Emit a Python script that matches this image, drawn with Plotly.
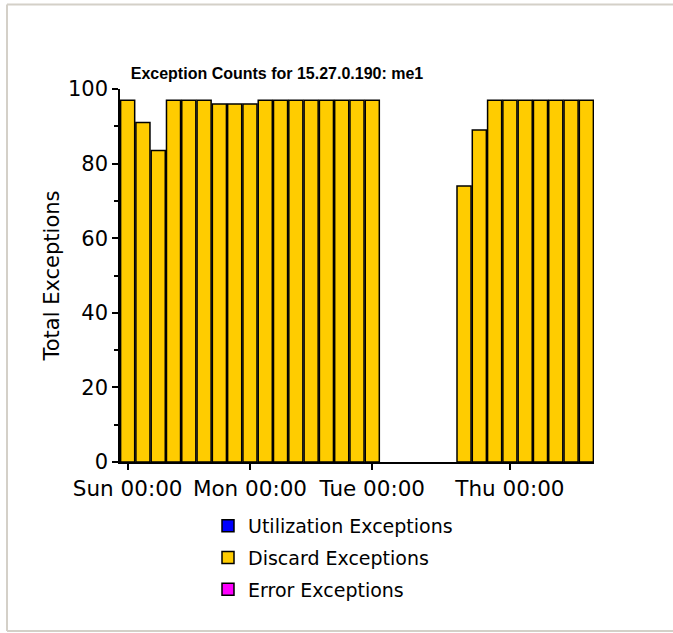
import plotly.graph_objects as go

# ---- data ----
slots = [
    "Sun 00:00", "Sun 03:00", "Sun 06:00", "Sun 09:00", "Sun 12:00", "Sun 15:00", "Sun 18:00", "Sun 21:00",
    "Mon 00:00", "Mon 03:00", "Mon 06:00", "Mon 09:00", "Mon 12:00", "Mon 15:00", "Mon 18:00", "Mon 21:00",
    "Tue 00:00",
    "gap1", "gap2", "gap3", "gap4", "gap5",
    "Wed 15:00", "Wed 18:00", "Wed 21:00",
    "Thu 00:00", "Thu 03:00", "Thu 06:00", "Thu 09:00", "Thu 12:00", "Thu 15:00",
]
discard = [
    97, 91, 83.5, 97, 97, 97, 96, 96, 96, 97, 97, 97, 97, 97, 97, 97,
    97,
    None, None, None, None, None,
    74, 89, 97,
    97, 97, 97, 97, 97, 97,
]
utilization = [None] * len(slots)
errors = [None] * len(slots)

tick_labels = ["Sun 00:00", "Mon 00:00", "Tue 00:00", "Thu 00:00"]
y_ticks = [0, 20, 40, 60, 80, 100]

title_text = "Exception Counts for 15.27.0.190: me1"
y_title = "Total Exceptions"

# ---- figure ----
W, H = 673, 633
L, R, T, B = 120, 79, 89, 171
pw, ph = W - L - R, H - T - B

def px_x(p):
    return (p - L) / pw

def px_y(p):
    return (H - B - p) / ph

fig = go.Figure()
fig.add_trace(go.Bar(x=slots, y=utilization, name="Utilization Exceptions",
                     marker=dict(color="#0000FF", line=dict(color="black", width=1.5)),
                     legendgroup="u"))
fig.add_trace(go.Bar(x=slots, y=discard, name="Discard Exceptions",
                     marker=dict(color="#FFCC00", line=dict(color="black", width=1.5)),
                     legendgroup="d"))
fig.add_trace(go.Bar(x=slots, y=errors, name="Error Exceptions",
                     marker=dict(color="#FF00FF", line=dict(color="black", width=1.5)),
                     legendgroup="e"))

fig.update_layout(
    width=W, height=H,
    margin=dict(l=L, r=R, t=T, b=B, pad=0),
    paper_bgcolor="white", plot_bgcolor="white",
    barmode="overlay", bargap=0.08,
    font=dict(family="DejaVu Sans", color="black"),
    title=dict(text=title_text, x=px_x(277), xanchor="center", xref="paper",
               y=1 - 73 / H, yanchor="middle", yref="container",
               font=dict(family="Liberation Sans", size=16, color="black", weight="bold")),
    xaxis=dict(type="category", categoryorder="array", categoryarray=slots,
               range=[-0.5, len(slots) - 0.5],
               tickmode="array", tickvals=tick_labels, ticktext=tick_labels,
               ticks="outside", ticklen=6, tickwidth=1.5, tickcolor="black",
               showline=True, linecolor="black", linewidth=1.5,
               showgrid=False, zeroline=False,
               tickfont=dict(family="DejaVu Sans", size=21.5, color="black")),
    yaxis=dict(range=[0, 100], tickmode="array", tickvals=y_ticks,
               ticks="outside", ticklen=6, tickwidth=1.5, tickcolor="black",
               minor=dict(dtick=10, ticks="outside", ticklen=4, tickcolor="black", tickwidth=1.5),
               showline=True, linecolor="black", linewidth=1.5,
               showgrid=False, zeroline=False,
               tickfont=dict(family="DejaVu Sans", size=21, color="black"),
               title=dict(text=y_title, standoff=3,
                          font=dict(family="DejaVu Sans", size=21, color="black"))),
    legend=dict(orientation="v", x=px_x(208), xanchor="left", y=px_y(507), yanchor="top",
                font=dict(family="DejaVu Sans", size=19, color="black"),
                tracegroupgap=4, bgcolor="rgba(0,0,0,0)"),
    showlegend=True,
)

# outer frame
frame_col = "#D4D0C8"
fig.add_shape(type="line", xref="paper", yref="paper",
              x0=px_x(7), x1=px_x(W + 5), y0=px_y(4.5), y1=px_y(4.5),
              line=dict(color=frame_col, width=2))
fig.add_shape(type="line", xref="paper", yref="paper",
              x0=px_x(7), x1=px_x(7), y0=px_y(4.5), y1=px_y(631),
              line=dict(color=frame_col, width=2))
fig.add_shape(type="line", xref="paper", yref="paper",
              x0=px_x(7), x1=px_x(W + 5), y0=px_y(631), y1=px_y(631),
              line=dict(color=frame_col, width=2))

fig.write_html(
    "out.html",
    config={"displayModeBar": False},
    post_script="document.body.style.margin='0';document.body.style.overflow='hidden';",
)
